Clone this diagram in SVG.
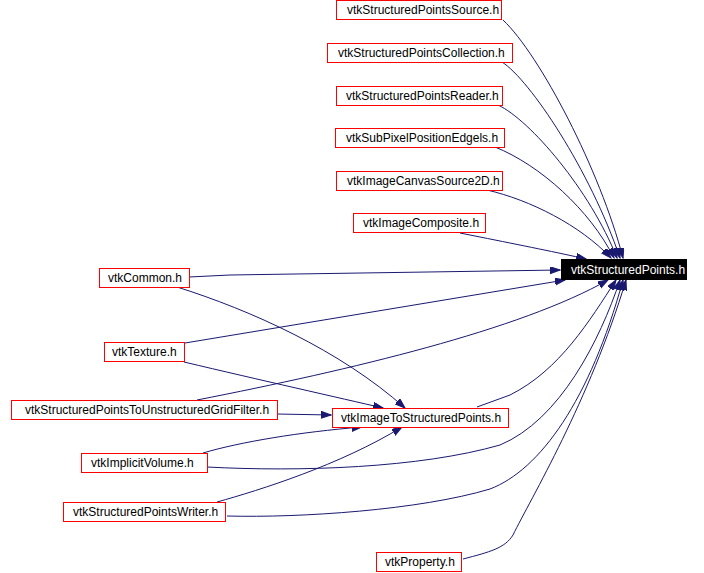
<svg xmlns="http://www.w3.org/2000/svg" width="704" height="573" viewBox="0 0 704 573">
<style>
.n rect{fill:#ffffff;stroke:#ff0000;stroke-width:1}
.n text{font-family:"Liberation Sans",Arial,sans-serif;font-size:12px;fill:#000000}
#sp rect{fill:#000000;stroke:#000000}
#sp text{fill:#ffffff}
.e path{fill:none;stroke:#191970;stroke-width:1;marker-end:url(#ah)}
</style>
<defs>
<marker id="ah" markerUnits="userSpaceOnUse" markerWidth="11" markerHeight="8" refX="10" refY="3.5" orient="auto">
<path d="M0,0 L10,3.5 L0,7 z" fill="#191970" stroke="#191970" stroke-width="1"/>
</marker>
</defs>
<rect width="704" height="573" fill="#ffffff"/>
<g class="e" id="edges">
<path d="M503,20 C540,55 600,170 623,258"/>
<path d="M502,62 C530,80 590,170 620,258"/>
<path d="M498,105 C530,120 590,190 617,258"/>
<path d="M495,147 C540,165 590,210 614,258"/>
<path d="M487,190 C530,200 580,225 611,258"/>
<path d="M460,233 L480,237 C520,245 560,253 586,259"/>
<path d="M189,277 L230,275 L560,270"/>
<path d="M177,287 C250,310 340,350 405,408"/>
<path d="M185,343 L565,280"/>
<path d="M184,362 C260,380 340,398 383,408"/>
<path d="M197,400 C350,370 520,330 608,280"/>
<path d="M277,414 L331,415"/>
<path d="M203,453 C240,442 300,432 362,427"/>
<path d="M217,502 C260,490 340,465 402,427"/>
<path d="M477,407 L510,395 C560,370 590,320 616,280"/>
<path d="M207,467 C300,472 420,468 500,445 C560,420 600,340 620,280"/>
<path d="M227,516 C300,518 420,510 490,489 C540,470 590,400 623,280"/>
<path d="M463,559 C490,552 505,548 513,535 C530,500 590,400 626,280"/>
</g>
<g class="n" id="n_source"><rect x="336.5" y="0.5" width="165" height="19"/><text x="347" y="13.5">vtkStructuredPointsSource.h</text></g>
<g class="n" id="n_collection"><rect x="327.5" y="43.5" width="185" height="19"/><text x="338" y="56.5">vtkStructuredPointsCollection.h</text></g>
<g class="n" id="n_reader"><rect x="336.5" y="86.5" width="166" height="19"/><text x="346" y="99.5">vtkStructuredPointsReader.h</text></g>
<g class="n" id="n_subpixel"><rect x="335.5" y="128.5" width="169" height="19"/><text x="346" y="141.5">vtkSubPixelPositionEdgels.h</text></g>
<g class="n" id="n_canvas"><rect x="336.5" y="171.5" width="166" height="19"/><text x="347" y="184.5">vtkImageCanvasSource2D.h</text></g>
<g class="n" id="n_composite"><rect x="353.5" y="213.5" width="132" height="19"/><text x="363" y="226.5">vtkImageComposite.h</text></g>
<g class="n" id="sp"><rect x="561.5" y="259.5" width="125" height="20"/><text x="571" y="273.5">vtkStructuredPoints.h</text></g>
<g class="n" id="n_common"><rect x="99.5" y="268.5" width="90" height="19"/><text x="108" y="281.5">vtkCommon.h</text></g>
<g class="n" id="n_texture"><rect x="104.5" y="342.5" width="80" height="19"/><text x="112" y="355.5">vtkTexture.h</text></g>
<g class="n" id="n_sptougf"><rect x="11.5" y="400.5" width="266" height="19"/><text x="25" y="413.5">vtkStructuredPointsToUnstructuredGridFilter.h</text></g>
<g class="n" id="n_imagetosp"><rect x="332.5" y="408.5" width="176" height="19"/><text x="341" y="421.5">vtkImageToStructuredPoints.h</text></g>
<g class="n" id="n_implicit"><rect x="81.5" y="453.5" width="126" height="19"/><text x="91" y="466.5">vtkImplicitVolume.h</text></g>
<g class="n" id="n_writer"><rect x="63.5" y="502.5" width="162" height="19"/><text x="73" y="515.5">vtkStructuredPointsWriter.h</text></g>
<g class="n" id="n_property"><rect x="376.5" y="552.5" width="85" height="19"/><text x="385" y="565.5">vtkProperty.h</text></g>
</svg>
